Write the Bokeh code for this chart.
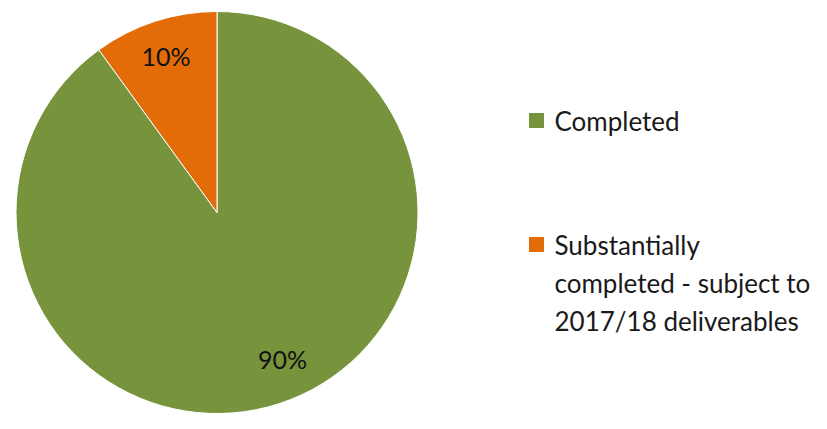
import math
from bokeh.plotting import figure
from bokeh.models import Range1d
from bokeh.core.properties import value
from bokeh.embed import file_html
from bokeh.resources import INLINE

# ---- data ----
categories = ["Completed", "Substantially completed - subject to 2017/18 deliverables"]
values = [90, 10]
colors = ["#77933C", "#E36C09"]
pct_labels = ["90%", "10%"]
legend_lines = [["Completed"], ["Substantially", "completed - subject to", "2017/18 deliverables"]]

# ---- layout ----
W, H = 811, 413
IMG_H = 429
def Y(img_y):
    return IMG_H - img_y

p = figure(width=W, height=H, output_backend="svg", toolbar_location=None,
           x_range=Range1d(0, W), y_range=Range1d(IMG_H - H, IMG_H),
           min_border=0)
p.axis.visible = False
p.grid.visible = False
p.outline_line_color = None
p.background_fill_color = "white"
p.border_fill_color = "white"

cx, cy, R = 216.5, Y(212), 201
total = float(sum(values))
start = math.pi / 2
starts, ends, mids = [], [], []
for v in values:
    sweep = 2 * math.pi * v / total
    starts.append(start)
    ends.append(start - sweep)
    mids.append(start - sweep / 2)
    start -= sweep

p.wedge(x=[cx] * len(values), y=[cy] * len(values), radius=R, radius_units="screen",
        start_angle=starts, end_angle=ends, direction="clock",
        fill_color=colors, line_color="white", line_width=1)

# data label placement (radial fraction, angle shift)
label_frac = [0.80, 0.82]
label_shift = [math.radians(6), 0.0]
lx = [cx + R * f * math.cos(m + s) for f, m, s in zip(label_frac, mids, label_shift)]
ly = [cy + R * f * math.sin(m + s) for f, m, s in zip(label_frac, mids, label_shift)]
p.text(x=lx, y=ly, text=pct_labels, text_align="center", text_baseline="middle",
       text_font=value("Lato"), text_font_size="25px", text_color="#111111")

# legend
leg_x = 536
leg_y = [Y(120), Y(244)]
line_h = 38
p.scatter(x=[leg_x] * 2, y=leg_y, marker="square", size=15, fill_color=colors, line_color=None)
tx, ty, tt = [], [], []
for yy, lines in zip(leg_y, legend_lines):
    for i, ln in enumerate(lines):
        tx.append(leg_x + 18)
        ty.append(yy - i * line_h)
        tt.append(ln)
p.text(x=tx, y=ty, text=tt, text_align="left", text_baseline="middle",
       text_font=value("Lato"), text_font_size="26px", text_color="#1a1a1a")

open("out.html", "w").write(file_html(p, INLINE))
